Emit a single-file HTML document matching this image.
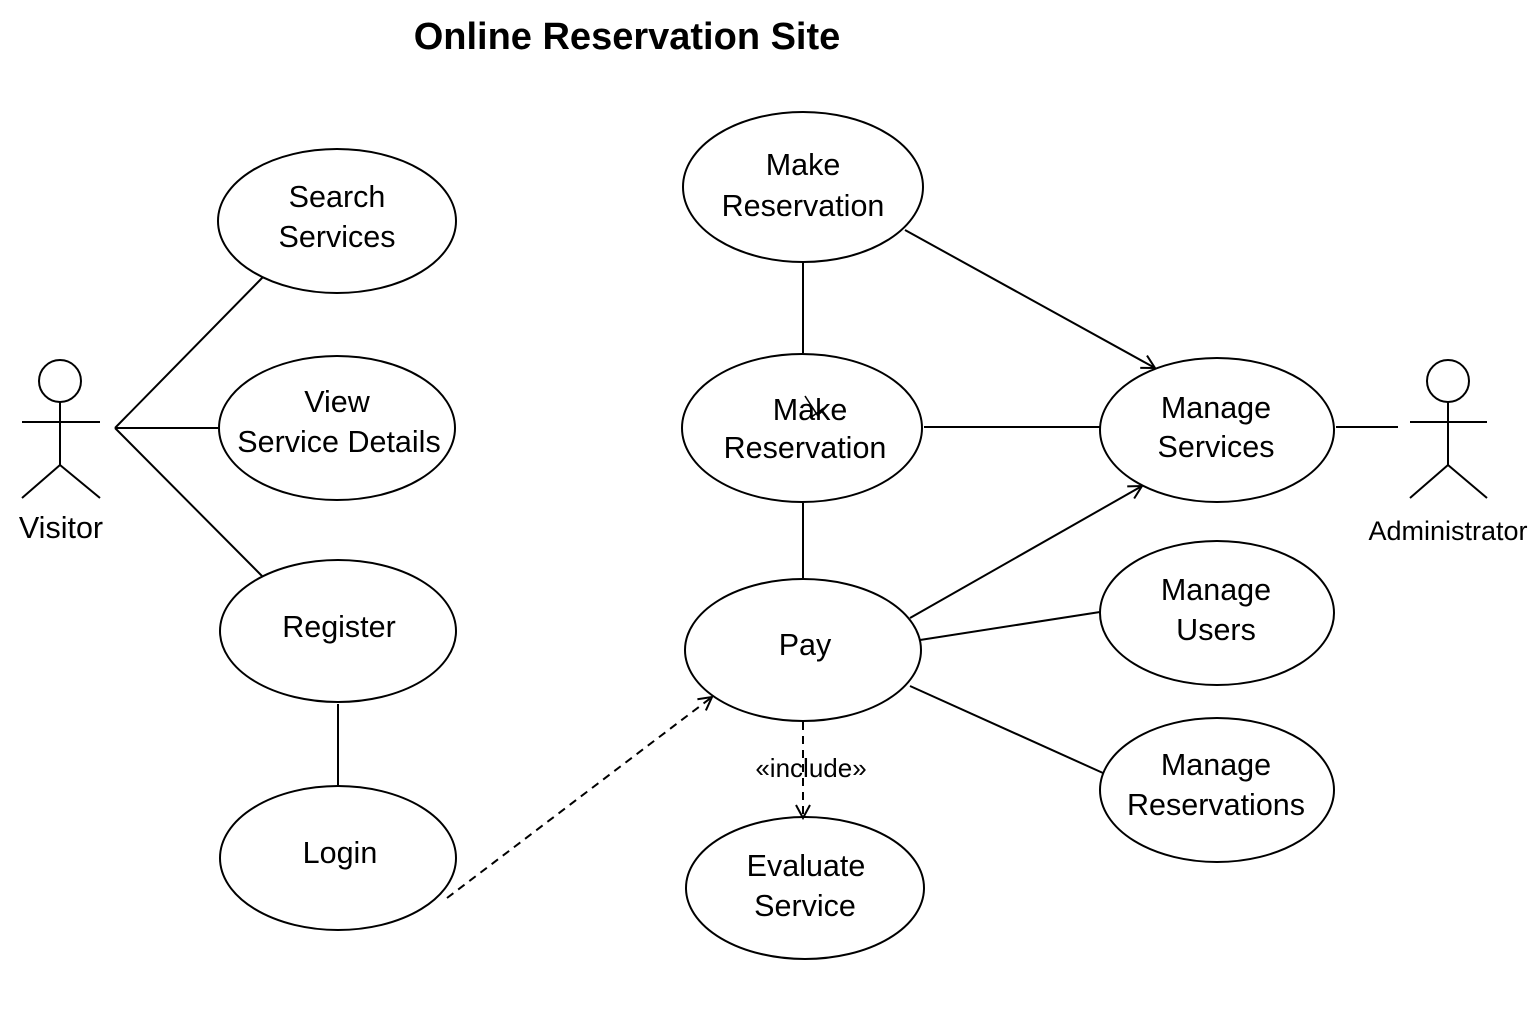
<!DOCTYPE html>
<html><head><meta charset="utf-8"><style>
html,body{margin:0;padding:0;background:#fff;}
svg{display:block;}
text{font-family:"Liberation Sans","DejaVu Sans",sans-serif;fill:#000;}
</style></head><body>
<svg width="1536" height="1024" viewBox="0 0 1536 1024" xmlns="http://www.w3.org/2000/svg">
<defs>
<marker id="a" markerWidth="16" markerHeight="16" refX="14" refY="8" orient="auto" markerUnits="userSpaceOnUse">
<path d="M1,1 L14,8 L1,15" fill="none" stroke="#000" stroke-width="2"/>
</marker>
</defs>
<text x="627" y="49" font-size="38" font-weight="bold" text-anchor="middle">Online Reservation Site</text>
<g fill="none" stroke="#000" stroke-width="2">
<ellipse cx="337" cy="221" rx="119" ry="72"/>
<ellipse cx="337" cy="428" rx="118" ry="72"/>
<ellipse cx="338" cy="631" rx="118" ry="71"/>
<ellipse cx="338" cy="858" rx="118" ry="72"/>
<ellipse cx="803" cy="187" rx="120" ry="75"/>
<ellipse cx="802" cy="428" rx="120" ry="74"/>
<ellipse cx="803" cy="650" rx="118" ry="71"/>
<ellipse cx="805" cy="888" rx="119" ry="71"/>
<ellipse cx="1217" cy="430" rx="117" ry="72"/>
<ellipse cx="1217" cy="613" rx="117" ry="72"/>
<ellipse cx="1217" cy="790" rx="117" ry="72"/>
<circle cx="60" cy="381" r="21"/>
<path d="M60,402 V465 M22,422 H100 M60,465 L22,498 M60,465 L100,498"/>
<circle cx="1448" cy="381" r="21"/>
<path d="M1448,402 V465 M1410,422 H1487 M1448,465 L1410,498 M1448,465 L1487,498"/>
<path d="M115,428 L263,277 M115,428 H218 M115,428 L262,576"/>
<path d="M338,704 V785"/>
<path d="M447,898 L712,697" stroke-dasharray="8,6" marker-end="url(#a)"/>
<path d="M803,262 V353"/>
<path d="M905,230 L1155,368" marker-end="url(#a)"/>
<path d="M924,427 H1100"/>
<path d="M803,503 V578"/>
<path d="M910,618 L1142,486" marker-end="url(#a)"/>
<path d="M920,640 L1100,612"/>
<path d="M910,686 L1103,773"/>
<path d="M803,722 V818" stroke-dasharray="8,6" marker-end="url(#a)"/>
<path d="M1336,427 H1398"/>
<path d="M805,396 L818,416 M810,418 L824,408" stroke-width="1.6"/>
</g>
<g font-size="30.5" text-anchor="middle">
<text x="337" y="207">Search</text><text x="337" y="247">Services</text>
<text x="337" y="412">View</text><text x="339" y="452">Service Details</text>
<text x="339" y="637">Register</text>
<text x="340" y="863">Login</text>
<text x="803" y="175">Make</text><text x="803" y="216">Reservation</text>
<text x="810" y="420">Make</text><text x="805" y="458">Reservation</text>
<text x="805" y="655">Pay</text>
<text x="806" y="876">Evaluate</text><text x="805" y="916">Service</text>
<text x="1216" y="418">Manage</text><text x="1216" y="457">Services</text>
<text x="1216" y="600">Manage</text><text x="1216" y="640">Users</text>
<text x="1216" y="775">Manage</text><text x="1216" y="815">Reservations</text>
<text x="61" y="538">Visitor</text>
<text x="1448" y="540" font-size="27">Administrator</text>
<text x="811" y="777" font-size="26">«include»</text>
</g>
</svg>
</body></html>
